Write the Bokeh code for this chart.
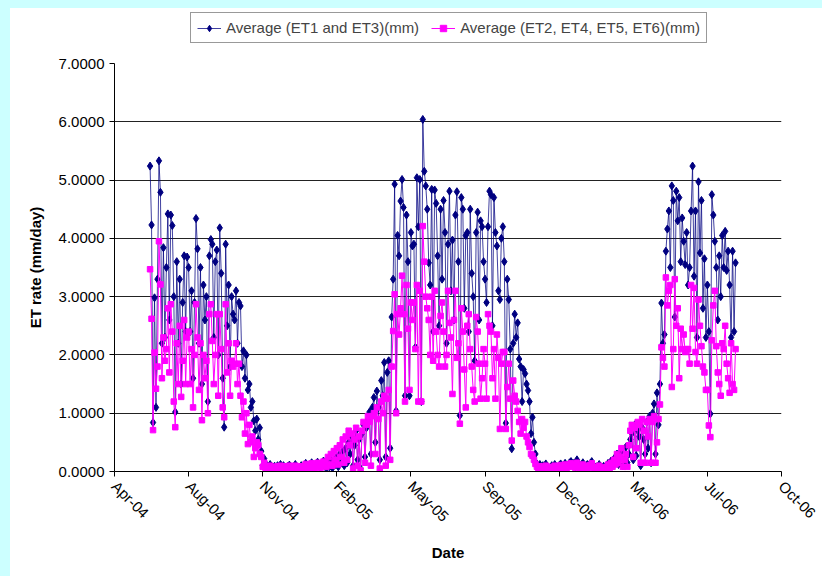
import datetime as dt
from bokeh.plotting import figure
from bokeh.models import (ColumnDataSource, FixedTicker, NumeralTickFormatter,
                          DatetimeTickFormatter, Legend, LegendItem, Range1d, Spacer)
from bokeh.layouts import column, row
from bokeh.embed import file_html
from bokeh.resources import INLINE

# ---------------- data (values every 2nd day from 10 Jun 2004) ----------------
START_DATE = "2004-06-10"
STEP_DAYS = 2

et1_et3 = [
    5.24, 4.23, 0.84, 2.98, 1.10, 3.30, 5.33, 4.79, 2.20, 3.84, 2.30,                # Jun-04
    3.50, 4.42, 2.60, 4.40, 4.22, 3.00, 1.02, 3.60, 2.20, 3.30, 1.50, 2.90, 3.70, 2.40, 3.68,  # Jul-04
    3.50, 2.40, 3.10, 1.60, 2.90, 4.34, 3.82, 2.20, 3.50, 1.50, 3.20, 2.60, 3.00, 1.20, 3.70, 3.98,  # Aug-04
    3.90, 2.30, 3.60, 3.80, 2.00, 4.18, 3.40, 1.60, 0.76, 3.90, 2.50, 3.20, 1.80, 3.00, 2.70,  # Sep-04
    2.60, 3.10, 2.20, 2.90, 2.84, 1.80, 2.07, 1.60, 2.00, 1.40, 1.50, 1.10, 1.20, 0.87, 0.70,  # Oct-04
    0.90, 0.55, 0.75, 0.35, 0.10, 0.22, 0.06, 0.10, 0.05, 0.12, 0.07, 0.04, 0.09, 0.06, 0.10,  # Nov-04
    0.08, 0.12, 0.05, 0.10, 0.07, 0.03, 0.09, 0.11, 0.06, 0.04, 0.08, 0.12, 0.05, 0.03, 0.07, 0.10,  # Dec-04
    0.06, 0.10, 0.14, 0.08, 0.05, 0.11, 0.15, 0.09, 0.06, 0.12, 0.16, 0.10, 0.07, 0.13, 0.18,  # Jan-05
    0.10, 0.05, 0.14, 0.08, 0.20, 0.06, 0.18, 0.12, 0.25, 0.08, 0.30, 0.15, 0.35, 0.10,  # Feb-05
    0.40, 0.15, 0.50, 0.30, 0.60, 0.10, 0.45, 0.70, 0.20, 0.55, 0.05, 0.65, 0.80, 0.25, 0.75, 0.90,  # Mar-05
    1.02, 0.30, 1.10, 1.27, 0.50, 1.38, 1.10, 0.20, 1.56, 1.30, 1.87, 0.25, 1.70, 1.90, 0.40,  # Apr-05
    2.65, 3.30, 4.93, 1.04, 4.05, 3.70, 4.64, 5.01, 4.53, 1.30, 4.40, 3.60, 1.30, 4.10, 3.87,  # May-05
    3.90, 2.13, 5.04, 4.20, 5.01, 1.20, 6.04, 5.15, 4.90, 4.50, 3.58, 3.20, 4.84, 2.40, 4.83,  # Jun-05
    4.60, 3.70, 2.50, 4.50, 3.30, 4.65, 4.10, 2.20, 3.90, 4.81, 3.10, 3.97, 2.60, 4.40, 4.80, 3.60,  # Jul-05
    0.96, 4.70, 4.50, 2.80, 4.05, 4.10, 2.40, 4.50, 3.40, 3.00, 1.90, 4.10, 4.45, 2.60, 4.30,  # Aug-05
    4.20, 3.60, 3.30, 2.90, 4.20, 4.81, 4.75, 2.50, 4.70, 4.10, 3.87, 3.10, 2.95, 4.00, 4.20,  # Sep-05
    3.60, 0.83, 3.30, 2.95, 2.10, 0.39, 2.20, 2.70, 2.30, 2.55, 1.93, 1.80, 1.20, 1.75, 1.68, 1.50,  # Oct-05
    1.39, 1.20, 0.65, 0.93, 0.50, 0.30, 0.13, 0.08, 0.12, 0.05, 0.10, 0.06, 0.13, 0.08, 0.05,  # Nov-05
    0.07, 0.10, 0.05, 0.12, 0.08, 0.04, 0.10, 0.13, 0.06, 0.09, 0.14, 0.07, 0.11, 0.15, 0.17,  # Dec-05
    0.10, 0.14, 0.08, 0.20, 0.12, 0.06, 0.11, 0.15, 0.09, 0.05, 0.12, 0.08, 0.14, 0.17, 0.10, 0.06,  # Jan-06
    0.08, 0.04, 0.12, 0.06, 0.03, 0.09, 0.05, 0.10, 0.14, 0.07, 0.18, 0.10, 0.22, 0.15,  # Feb-06
    0.30, 0.12, 0.25, 0.35, 0.10, 0.20, 0.42, 0.15, 0.30, 0.55, 0.65, 0.20, 0.80, 0.27, 0.70,  # Mar-06
    0.60, 0.10, 0.75, 0.55, 0.30, 0.85, 0.40, 0.95, 0.15, 1.00, 1.16, 0.30, 1.35, 0.80, 1.50,  # Apr-06
    2.89, 2.20, 2.35, 3.78, 4.16, 4.47, 3.50, 4.90, 4.65, 2.65, 4.81, 4.30, 4.70, 3.60, 4.35, 3.95,  # May-06
    3.55, 4.10, 3.20, 3.50, 4.47, 5.24, 3.35, 4.47, 2.30, 4.97, 3.75, 4.65, 2.80, 3.65, 2.30,  # Jun-06
    3.20, 2.40, 0.99, 4.75, 4.40, 3.95, 3.50, 2.60, 3.70, 3.00, 4.05, 3.50, 4.12, 3.45, 3.78,  # Jul-06
    3.20, 2.30, 3.78, 2.40, 3.58,                                                      # Aug-06
]

et2_et4_et5_et6 = [
    3.47, 2.62, 0.71, 2.04, 1.42, 1.80, 3.95, 3.21, 1.60, 2.30, 1.90,                # Jun-04
    2.10, 2.80, 1.70, 2.87, 2.40, 1.20, 0.76, 2.20, 1.50, 2.50, 1.28, 1.90, 2.60, 1.50, 2.30,  # Jul-04
    2.40, 1.50, 2.10, 1.10, 2.00, 2.87, 2.30, 1.40, 2.20, 0.88, 2.00, 1.60, 1.90, 1.00, 2.70, 2.87,  # Aug-04
    2.24, 1.50, 2.00, 2.70, 1.30, 2.70, 2.10, 1.10, 0.93, 2.87, 1.70, 2.20, 1.30, 1.90, 1.80,  # Sep-04
    1.85, 2.20, 1.50, 1.85, 1.30, 0.93, 1.20, 0.65, 1.00, 0.47, 0.80, 0.50, 0.60, 0.25, 0.40,  # Oct-04
    0.50, 0.45, 0.30, 0.25, 0.08, 0.15, 0.05, 0.08, 0.04, 0.10, 0.06, 0.03, 0.08, 0.05, 0.09,  # Nov-04
    0.06, 0.10, 0.04, 0.09, 0.06, 0.02, 0.08, 0.10, 0.05, 0.03, 0.07, 0.10, 0.04, 0.02, 0.06, 0.09,  # Dec-04
    0.05, 0.09, 0.13, 0.07, 0.04, 0.10, 0.14, 0.08, 0.05, 0.11, 0.15, 0.09, 0.06, 0.12, 0.17,  # Jan-05
    0.15, 0.08, 0.25, 0.12, 0.30, 0.10, 0.35, 0.20, 0.40, 0.12, 0.45, 0.25, 0.55, 0.15,  # Feb-05
    0.60, 0.20, 0.70, 0.45, 0.65, 0.05, 0.55, 0.75, 0.10, 0.60, 0.02, 0.70, 0.85, 0.15, 0.80, 0.95,  # Mar-05
    0.85, 0.10, 0.95, 1.00, 0.30, 1.10, 0.90, 0.05, 1.20, 1.00, 1.30, 0.10, 1.25, 1.40, 0.20,  # Apr-05
    1.80, 2.41, 3.04, 1.00, 2.70, 2.35, 2.80, 3.36, 2.70, 1.20, 3.20, 2.45, 1.40, 2.90, 2.60,  # May-05
    2.90, 2.10, 3.20, 1.20, 3.10, 1.20, 4.21, 3.60, 3.00, 2.80, 2.60, 2.00, 3.00, 1.90, 3.10,  # Jun-05
    2.40, 2.00, 1.80, 2.67, 2.90, 2.40, 1.80, 2.00, 3.10, 2.55, 2.30, 1.33, 2.60, 3.10, 1.95, 2.20,  # Jul-05
    0.82, 2.80, 2.40, 1.75, 1.10, 2.50, 2.70, 2.10, 1.80, 1.40, 1.20, 2.65, 2.40, 1.85, 1.25,  # Aug-05
    1.60, 2.10, 1.85, 1.25, 2.70, 2.50, 2.40, 1.60, 2.10, 1.25, 2.35, 1.95, 0.73, 1.85, 2.05,  # Sep-05
    2.05, 0.73, 1.45, 1.85, 1.25, 0.53, 1.56, 1.30, 1.20, 1.04, 0.85, 0.65, 0.90, 0.75, 0.85, 0.60,  # Oct-05
    0.50, 0.42, 0.30, 0.27, 0.20, 0.13, 0.08, 0.05, 0.09, 0.03, 0.07, 0.04, 0.10, 0.06, 0.03,  # Nov-05
    0.05, 0.08, 0.03, 0.10, 0.06, 0.02, 0.08, 0.11, 0.04, 0.07, 0.12, 0.05, 0.09, 0.12, 0.14,  # Dec-05
    0.08, 0.12, 0.06, 0.15, 0.10, 0.04, 0.09, 0.12, 0.07, 0.04, 0.10, 0.06, 0.11, 0.14, 0.08, 0.05,  # Jan-06
    0.06, 0.03, 0.10, 0.04, 0.02, 0.07, 0.04, 0.08, 0.12, 0.05, 0.15, 0.08, 0.20, 0.12,  # Feb-06
    0.30, 0.15, 0.25, 0.40, 0.08, 0.20, 0.30, 0.08, 0.45, 0.70, 0.80, 0.25, 0.75, 0.40, 0.85,  # Mar-06
    0.80, 0.15, 0.90, 0.70, 0.15, 0.85, 0.60, 0.90, 0.15, 0.85, 0.95, 0.15, 0.50, 0.90, 1.15,  # Apr-06
    2.13, 1.95, 1.80, 3.33, 2.85, 3.10, 3.20, 1.45, 2.10, 3.30, 2.50, 2.80, 1.60, 2.45, 2.10, 2.35,  # May-06
    2.05, 2.10, 2.10, 1.85, 3.20, 2.45, 3.15, 2.05, 1.85, 2.95, 2.50, 2.15, 1.80, 1.70, 1.40,  # Jun-06
    1.40, 0.79, 0.59, 2.25, 2.85, 3.10, 2.15, 1.70, 1.50, 1.30, 2.20, 2.10, 2.50, 1.85, 1.60,  # Jul-06
    1.35, 2.20, 1.50, 1.40, 2.10,                                                      # Aug-06
]

x_tick_dates = ["2004-04-23", "2004-08-01", "2004-11-09", "2005-02-17", "2005-05-28",
                "2005-09-05", "2005-12-14", "2006-03-24", "2006-07-02", "2006-10-10"]
y_ticks = [0, 1, 2, 3, 4, 5, 6, 7]

series_names = ["Average (ET1 and ET3)(mm)", "Average (ET2, ET4, ET5, ET6)(mm)"]

# ---------------- build ----------------
def to_dt(s):
    return dt.datetime.strptime(s, "%Y-%m-%d")

start = to_dt(START_DATE)
n = min(len(et1_et3), len(et2_et4_et5_et6))
dates = [start + dt.timedelta(days=STEP_DAYS * i) for i in range(n)]
src = ColumnDataSource(dict(date=dates, a=et1_et3[:n], b=et2_et4_et5_et6[:n]))

epoch = dt.datetime(1970, 1, 1)
tick_ms = [(to_dt(s) - epoch).total_seconds() * 1000.0 for s in x_tick_dates]

FONT = "Liberation Sans"
NAVY = "#000080"
MAG = "#FF00FF"

LEG_H = 40
p = figure(width=812, height=568 - LEG_H, output_backend="svg", toolbar_location=None,
           x_axis_type="datetime",
           x_range=Range1d(to_dt(x_tick_dates[0]), to_dt(x_tick_dates[-1])),
           y_range=Range1d(0, 7),
           min_border_left=104, min_border_right=41, min_border_top=55 - LEG_H,
           min_border_bottom=105)
p.background_fill_color = "white"
p.border_fill_color = "white"
p.outline_line_color = None

def draw_series(fig, source, ycol, color, marker, size, alpha):
    ln = fig.line("date", ycol, source=source, line_color=color, line_width=1, line_alpha=alpha)
    sc = fig.scatter("date", ycol, source=source, marker=marker, size=size,
                     fill_color=color, line_color=color)
    return ln, sc

l1, s1 = draw_series(p, src, "a", NAVY, "diamond", 8, 0.75)
l2, s2 = draw_series(p, src, "b", MAG, "square", 5.5, 1.0)

# axes
p.xaxis.ticker = FixedTicker(ticks=tick_ms)
p.xaxis.formatter = DatetimeTickFormatter(
    milliseconds="%b-%y", seconds="%b-%y", minsec="%b-%y", minutes="%b-%y",
    hourmin="%b-%y", hours="%b-%y", days="%b-%y", months="%b-%y", years="%b-%y")
p.xaxis.major_label_orientation = -0.7854
p.yaxis.ticker = FixedTicker(ticks=y_ticks)
p.yaxis.formatter = NumeralTickFormatter(format="0.0000")

for ax in (p.xaxis[0], p.yaxis[0]):
    ax.axis_line_color = "black"
    ax.major_tick_line_color = "black"
    ax.major_tick_out = 5
    ax.major_tick_in = 0
    ax.minor_tick_line_color = None
    ax.major_label_text_font = FONT
    ax.major_label_text_font_size = "15px"
    ax.major_label_text_color = "black"
    ax.axis_label_text_font = FONT
    ax.axis_label_text_font_size = "15px"
    ax.axis_label_text_font_style = "bold"
    ax.axis_label_text_color = "black"

p.xaxis.axis_label = "Date"
p.yaxis.axis_label = "ET rate (mm/day)"
p.yaxis.axis_label_standoff = 12
p.xaxis.axis_label_standoff = 10
p.xaxis.major_label_standoff = 7

p.xgrid.grid_line_color = None
p.ygrid.ticker = FixedTicker(ticks=y_ticks)
p.ygrid.grid_line_color = "#222222"
p.ygrid.grid_line_width = 1

# ---- legend strip above the plot (same glyph styles; its proxy point lies off-range) ----
proxy = ColumnDataSource(dict(date=[-5.0], a=[-5.0], b=[-5.0]))
lf = figure(width=812, height=LEG_H, output_backend="svg", toolbar_location=None,
            x_axis_type=None, y_axis_type=None,
            x_range=Range1d(0, 1), y_range=Range1d(0, 1),
            min_border_left=0, min_border_right=0, min_border_top=0, min_border_bottom=0)
lf.outline_line_color = None
lf.background_fill_color = "white"
lf.border_fill_color = "white"
k1, k2 = draw_series(lf, proxy, "a", NAVY, "diamond", 8, 0.75)
k3, k4 = draw_series(lf, proxy, "b", MAG, "square", 5.5, 1.0)

# the strip's frame is aligned with the main plot frame (starts at the y axis)
legend = Legend(items=[LegendItem(label=series_names[0], renderers=[k1, k2]),
                       LegendItem(label=series_names[1], renderers=[k3, k4])],
                orientation="horizontal", location=(76, 5),
                border_line_color="#333333", border_line_width=1,
                background_fill_color="white",
                label_text_font=FONT, label_text_font_size="15px",
                glyph_width=24, glyph_height=16, label_height=16,
                label_standoff=5, spacing=12, padding=6, margin=0)
lf.add_layout(legend, "center")

cyan = "#CCFFFF"
layout = column(
    Spacer(width=822, height=8, styles={"background-color": cyan}),
    row(Spacer(width=10, height=568, styles={"background-color": cyan}), column(lf, p)),
)

open("out.html", "w").write(file_html(layout, INLINE))
